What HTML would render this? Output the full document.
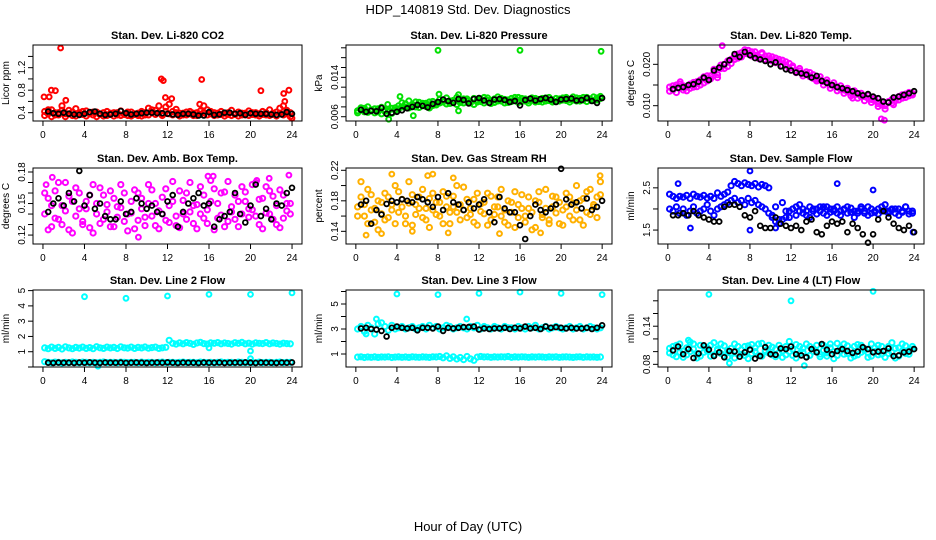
<!DOCTYPE html>
<html><head><meta charset="utf-8"><style>
html,body{margin:0;padding:0;background:#fff;}
svg{display:block;font-family:"Liberation Sans",Arial,sans-serif;}
</style></head><body>
<svg id="chart" width="936" height="540" viewBox="0 0 936 540" xmlns="http://www.w3.org/2000/svg">
<text x="468" y="14" text-anchor="middle" font-size="13">HDP_140819  Std. Dev. Diagnostics</text>
<text x="468" y="531" text-anchor="middle" font-size="13">Hour of Day (UTC)</text>
</svg>
<script>
// ---------- data ----------
const xTicks = [0,4,8,12,16,20,24];
const co2Main = [0.42,0.38,0.45,0.36,0.40,0.52,0.38,0.44,0.35,0.47,0.40,0.37,0.43,0.39,0.36,0.41,0.38,0.34,0.42,0.37,0.40,0.36,0.43,0.38,0.35,0.41,0.37,0.39,0.42,0.36,0.48,0.40,0.44,0.52,0.38,0.50,0.55,0.42,0.46,0.39,0.36,0.41,0.38,0.35,0.40,0.43,0.52,0.45,0.38,0.40,0.36,0.42,0.39,0.37,0.44,0.38,0.41,0.36,0.39,0.43,0.37,0.40,0.38,0.42,0.36,0.45,0.39,0.41,0.48,0.52,0.44,0.40];
const co2Alt = [0.35,0.45,0.33,0.40,0.36,0.44,0.33,0.38,0.41,0.34,0.37,0.42,0.34,0.38,0.41,0.33,0.37,0.40,0.35,0.39,0.34,0.40,0.35,0.37,0.41,0.34,0.38,0.35,0.34,0.40,0.36,0.45,0.37,0.40,0.35,0.42,0.38,0.36,0.40,0.34,0.39,0.36,0.42,0.39,0.35,0.37,0.40,0.36,0.42,0.35,0.39,0.37,0.34,0.40,0.35,0.37,0.34,0.39,0.36,0.35,0.40,0.36,0.34,0.37,0.40,0.35,0.37,0.34,0.39,0.36,0.38,0.33];
const co2Out = [[1.7,1.55],[0.8,0.8],[1.2,0.79],[11.4,1.0],[11.6,0.97],[15.3,0.99],[21,0.79],[23.2,0.74],[23.7,0.8],[0.1,0.68],[0.6,0.68],[2.2,0.62],[11.8,0.67],[12.4,0.65],[15.1,0.55],[23.3,0.6],[24,0.3]];
const co2Black = [0.42,0.39,0.38,0.40,0.38,0.37,0.36,0.38,0.41,0.42,0.38,0.36,0.37,0.38,0.43,0.39,0.37,0.38,0.39,0.40,0.40,0.39,0.39,0.38,0.37,0.36,0.38,0.38,0.37,0.35,0.35,0.41,0.36,0.37,0.40,0.40,0.38,0.39,0.36,0.39,0.38,0.38,0.38,0.37,0.36,0.37,0.41,0.38];

const presMain = [0.0072,0.0078,0.0070,0.0080,0.0074,0.0068,0.0076,0.0079,0.0071,0.0075,0.0067,0.0073,0.0082,0.0088,0.0079,0.0092,0.0085,0.0080,0.0089,0.0083,0.0087,0.0078,0.0091,0.0084,0.0095,0.0090,0.0098,0.0087,0.0093,0.0099,0.0089,0.0096,0.0092,0.0088,0.0097,0.0094,0.0091,0.0099,0.0093,0.0087,0.0096,0.0100,0.0092,0.0095,0.0089,0.0097,0.0094,0.0099,0.0091,0.0096,0.0093,0.0098,0.0090,0.0095,0.0097,0.0092,0.0099,0.0094,0.0091,0.0096,0.0098,0.0093,0.0095,0.0100,0.0092,0.0097,0.0094,0.0099,0.0096,0.0093,0.0098,0.0101];
const presAlt = [0.0068,0.0074,0.0077,0.0069,0.0072,0.0076,0.0070,0.0066,0.0074,0.0071,0.0077,0.0078,0.0076,0.0080,0.0086,0.0078,0.0082,0.0090,0.0079,0.0087,0.0081,0.0090,0.0083,0.0088,0.0088,0.0094,0.0086,0.0092,0.0089,0.0085,0.0094,0.0088,0.0096,0.0091,0.0085,0.0090,0.0096,0.0088,0.0098,0.0093,0.0089,0.0092,0.0097,0.0088,0.0094,0.0091,0.0099,0.0089,0.0097,0.0092,0.0088,0.0094,0.0097,0.0091,0.0090,0.0098,0.0093,0.0090,0.0097,0.0092,0.0094,0.0099,0.0090,0.0094,0.0098,0.0092,0.0099,0.0091,0.0095,0.0100,0.0094,0.0097];
const presOut = [[8,0.0195],[16,0.0195],[23.9,0.0193],[3.2,0.0055],[5.6,0.0062],[10,0.0072],[4.3,0.0101],[8.1,0.0106],[10,0.0105],[3.1,0.0085]];
const presBlack = [0.0074,0.0070,0.0072,0.0071,0.0078,0.0066,0.0068,0.0070,0.0073,0.0077,0.0080,0.0084,0.0082,0.0079,0.0086,0.0090,0.0095,0.0092,0.0088,0.0096,0.0094,0.0087,0.0096,0.0098,0.0093,0.0088,0.0095,0.0096,0.0094,0.0090,0.0092,0.0083,0.0094,0.0097,0.0093,0.0096,0.0098,0.0095,0.0090,0.0095,0.0096,0.0097,0.0093,0.0094,0.0098,0.0092,0.0088,0.0098];

const tempMain = [0.0145,0.0138,0.0150,0.0142,0.0148,0.0136,0.0152,0.0145,0.0158,0.0150,0.0165,0.0160,0.0172,0.0180,0.0175,0.0190,0.0200,0.0195,0.0212,0.0220,0.0215,0.0228,0.0235,0.0225,0.0230,0.0222,0.0218,0.0225,0.0212,0.0220,0.0208,0.0215,0.0205,0.0210,0.0198,0.0202,0.0192,0.0185,0.0190,0.0178,0.0182,0.0170,0.0175,0.0165,0.0170,0.0158,0.0162,0.0150,0.0155,0.0145,0.0148,0.0138,0.0142,0.0132,0.0136,0.0128,0.0130,0.0122,0.0125,0.0115,0.0118,0.0105,0.0110,0.0100,0.0108,0.0115,0.0112,0.0122,0.0118,0.0128,0.0124,0.0130];
const tempAlt = [0.0135,0.0148,0.0132,0.0152,0.0138,0.0146,0.0142,0.0156,0.0146,0.0162,0.0155,0.0172,0.0165,0.0188,0.0168,0.0198,0.0190,0.0208,0.0202,0.0212,0.0225,0.0218,0.0226,0.0234,0.0220,0.0230,0.0214,0.0228,0.0220,0.0210,0.0218,0.0204,0.0212,0.0196,0.0206,0.0190,0.0196,0.0180,0.0184,0.0172,0.0176,0.0180,0.0166,0.0160,0.0162,0.0150,0.0156,0.0142,0.0148,0.0136,0.0140,0.0130,0.0134,0.0124,0.0126,0.0118,0.0122,0.0112,0.0118,0.0108,0.0112,0.0098,0.0102,0.0092,0.0110,0.0106,0.0118,0.0114,0.0126,0.0120,0.0132,0.0126];
const tempOut = [[5.3,0.0245],[20.8,0.0068],[21.1,0.0065],[1.2,0.0158],[3.5,0.0170],[14.5,0.0160],[18,0.0118],[22,0.0102]];
const tempBlack = [0.0140,0.0143,0.0145,0.0150,0.0152,0.0158,0.0168,0.0162,0.0185,0.0192,0.0200,0.0210,0.0225,0.0218,0.0230,0.0222,0.0215,0.0212,0.0208,0.0200,0.0205,0.0195,0.0188,0.0185,0.0180,0.0178,0.0175,0.0168,0.0172,0.0160,0.0155,0.0150,0.0145,0.0142,0.0138,0.0135,0.0130,0.0125,0.0128,0.0122,0.0118,0.0110,0.0108,0.0120,0.0122,0.0126,0.0130,0.0135];

const boxMain = [0.140,0.155,0.128,0.162,0.135,0.148,0.170,0.125,0.152,0.138,0.160,0.130,0.145,0.158,0.122,0.150,0.165,0.135,0.142,0.128,0.155,0.147,0.168,0.133,0.140,0.152,0.126,0.160,0.145,0.137,0.150,0.163,0.129,0.143,0.156,0.134,0.148,0.171,0.138,0.127,0.153,0.160,0.142,0.131,0.149,0.166,0.136,0.144,0.172,0.125,0.150,0.139,0.161,0.133,0.147,0.158,0.128,0.166,0.152,0.137,0.144,0.170,0.130,0.155,0.141,0.162,0.135,0.148,0.127,0.158,0.143,0.150];
const boxAlt = [0.160,0.125,0.148,0.136,0.170,0.130,0.143,0.157,0.122,0.165,0.145,0.133,0.152,0.127,0.168,0.140,0.131,0.158,0.149,0.162,0.128,0.137,0.146,0.160,0.124,0.141,0.163,0.134,0.155,0.129,0.168,0.138,0.150,0.126,0.140,0.164,0.132,0.152,0.129,0.162,0.140,0.135,0.170,0.148,0.126,0.140,0.158,0.131,0.152,0.164,0.136,0.160,0.128,0.171,0.142,0.135,0.152,0.140,0.161,0.145,0.168,0.138,0.154,0.126,0.166,0.140,0.157,0.130,0.163,0.136,0.150,0.140];
const boxOut = [[0.3,0.168],[0.9,0.175],[9.2,0.118],[15.9,0.176],[16.4,0.176],[20.6,0.172],[21.8,0.174],[23.7,0.177]];
const boxBlack = [0.142,0.150,0.155,0.148,0.160,0.152,0.181,0.148,0.158,0.145,0.150,0.138,0.135,0.135,0.152,0.140,0.142,0.155,0.150,0.145,0.148,0.142,0.140,0.152,0.158,0.128,0.142,0.150,0.155,0.160,0.148,0.150,0.128,0.135,0.138,0.142,0.160,0.140,0.132,0.148,0.168,0.138,0.145,0.135,0.150,0.148,0.160,0.165];

const rhMain = [0.172,0.185,0.160,0.195,0.168,0.152,0.180,0.163,0.190,0.158,0.175,0.200,0.165,0.182,0.150,0.177,0.188,0.162,0.170,0.195,0.155,0.183,0.168,0.178,0.160,0.192,0.172,0.150,0.186,0.165,0.175,0.198,0.158,0.170,0.182,0.148,0.176,0.163,0.190,0.155,0.172,0.185,0.160,0.168,0.148,0.178,0.192,0.158,0.170,0.152,0.185,0.165,0.145,0.178,0.162,0.195,0.155,0.172,0.185,0.150,0.168,0.190,0.160,0.177,0.200,0.155,0.183,0.165,0.195,0.172,0.158,0.188];
const rhAlt = [0.160,0.205,0.175,0.150,0.188,0.170,0.142,0.178,0.155,0.185,0.168,0.150,0.192,0.172,0.160,0.205,0.148,0.175,0.185,0.158,0.170,0.145,0.190,0.162,0.178,0.150,0.186,0.165,0.172,0.200,0.155,0.168,0.182,0.162,0.152,0.190,0.166,0.178,0.148,0.186,0.162,0.172,0.195,0.152,0.180,0.165,0.145,0.175,0.188,0.160,0.170,0.142,0.180,0.192,0.158,0.170,0.150,0.186,0.164,0.178,0.148,0.172,0.185,0.155,0.168,0.180,0.148,0.192,0.162,0.175,0.185,0.205];
const rhOut = [[1,0.135],[3.5,0.215],[7,0.213],[7.5,0.215],[9.5,0.21],[23.8,0.213],[5.5,0.14],[9,0.138],[14,0.137],[18,0.138],[2.5,0.137]];
const rhBlack = [0.175,0.180,0.150,0.168,0.162,0.176,0.180,0.178,0.182,0.180,0.178,0.185,0.182,0.178,0.172,0.185,0.168,0.190,0.178,0.175,0.168,0.178,0.170,0.175,0.182,0.165,0.152,0.185,0.170,0.165,0.165,0.148,0.130,0.160,0.175,0.168,0.165,0.170,0.175,0.222,0.182,0.175,0.178,0.170,0.183,0.168,0.172,0.180];

const flowMain = [2.35,2.30,2.25,2.30,2.28,2.32,2.25,2.35,2.30,2.28,2.32,2.26,2.30,2.25,2.38,2.30,2.35,2.40,2.55,2.65,2.60,2.55,2.62,2.58,2.55,2.60,2.52,2.58,2.55,2.50,1.85,2.05,1.75,2.15,1.95,1.80,2.00,1.85,2.10,1.90,1.95,1.80,2.00,1.88,1.95,2.05,1.85,1.92,2.00,1.90,1.85,1.98,2.05,1.92,1.80,1.95,2.05,1.90,1.85,2.00,1.92,1.88,2.05,1.95,1.90,1.98,2.00,1.85,1.92,2.05,1.88,1.95];
const flowAlt = [2.00,1.95,2.05,1.90,2.00,1.85,1.95,2.05,1.90,1.95,2.00,2.10,1.95,1.85,2.00,2.05,2.10,2.15,2.20,2.25,2.15,2.20,2.10,2.25,2.15,2.20,2.10,2.05,2.00,1.90,1.80,1.70,1.65,1.75,1.80,1.95,2.00,2.05,1.95,2.00,1.85,2.05,1.95,2.00,2.05,1.90,2.05,2.00,1.95,2.05,1.95,2.00,1.90,2.02,1.95,1.90,2.00,1.95,2.05,1.90,1.95,2.00,1.95,2.10,1.95,2.00,1.90,2.00,1.95,2.05,1.95,1.90];
const flowOut = [[1,2.6],[8,2.9],[16.5,2.6],[20,2.45],[8,1.5],[23.9,1.45],[2.2,1.55],[10.5,1.55]];
const flowBlack = [1.85,1.85,1.90,1.85,1.95,1.85,1.80,1.75,1.70,1.70,2.05,2.10,2.10,2.05,1.85,1.80,1.95,1.60,1.55,1.55,1.80,1.65,1.60,1.55,1.60,1.50,1.70,1.75,1.45,1.40,1.60,1.70,1.65,1.70,1.45,1.65,1.55,1.40,1.20,1.40,1.75,1.95,1.80,1.65,1.55,1.50,1.60,1.45];

const l2Main = [1.25,1.20,1.30,1.22,1.28,1.18,1.32,1.25,1.20,1.28,1.24,1.30,1.22,1.27,1.20,1.33,1.26,1.22,1.30,1.25,1.28,1.21,1.32,1.26,1.24,1.30,1.22,1.28,1.25,1.31,1.23,1.27,1.30,1.22,1.26,1.29,1.75,1.55,1.50,1.58,1.52,1.60,1.55,1.48,1.57,1.62,1.53,1.50,1.58,1.55,1.60,1.52,1.57,1.54,1.50,1.59,1.55,1.61,1.52,1.56,1.50,1.58,1.55,1.53,1.60,1.52,1.57,1.54,1.50,1.56,1.53,1.52];
const l2Alt = [0.35,0.30,0.28,0.32,0.30,0.27,0.31,0.29,0.33,0.30,0.28,0.32,0.30,0.29,0.31,0.28,0.30,0.33,0.29,0.31,0.30,0.28,0.32,0.30,0.29,0.31,0.30,0.28,0.32,0.29,0.30,0.31,0.28,0.30,0.32,0.29,0.30,0.31,0.28,0.30,0.32,0.29,0.31,0.30,0.28,0.32,0.30,0.29,0.31,0.28,0.30,0.33,0.29,0.31,0.30,0.28,0.32,0.30,0.29,0.31,0.30,0.28,0.32,0.29,0.30,0.31,0.28,0.30,0.32,0.29,0.30,0.31];
const l2Out = [[4,4.6],[8,4.5],[12,4.65],[16,4.75],[20,4.75],[24,4.85],[16,1.25],[20,1.05],[20,0.55],[5.3,0.05]];
const l2Black = [0.28,0.27,0.29,0.28,0.28,0.27,0.29,0.28,0.30,0.28,0.27,0.29,0.28,0.28,0.29,0.27,0.28,0.29,0.28,0.27,0.28,0.29,0.28,0.30,0.28,0.27,0.29,0.28,0.28,0.27,0.29,0.28,0.28,0.29,0.27,0.28,0.29,0.28,0.30,0.28,0.27,0.29,0.28,0.28,0.27,0.29,0.28,0.30];

const l3Main = [3.0,3.2,2.8,3.3,3.1,2.6,3.4,3.5,3.2,2.9,3.3,3.0,3.1,3.2,3.0,3.1,3.2,3.0,3.1,3.2,3.0,3.3,3.1,3.2,3.0,3.1,3.3,3.2,3.0,3.1,3.2,3.1,3.0,3.2,3.1,3.3,3.0,3.2,3.1,3.0,3.2,3.1,3.0,3.2,3.1,3.1,3.0,3.2,3.1,3.0,3.2,3.1,3.3,3.0,3.1,3.2,3.0,3.1,3.2,3.1,3.0,3.1,3.2,3.0,3.1,3.2,3.0,3.1,3.2,3.1,3.0,3.1];
const l3Alt = [0.75,0.78,0.72,0.76,0.74,0.77,0.73,0.76,0.75,0.78,0.72,0.75,0.77,0.74,0.76,0.73,0.78,0.75,0.74,0.77,0.75,0.73,0.78,0.76,0.80,0.70,0.85,0.65,0.78,0.60,0.72,0.55,0.80,0.62,0.50,0.75,0.80,0.76,0.78,0.74,0.77,0.75,0.78,0.76,0.80,0.74,0.77,0.75,0.78,0.76,0.74,0.77,0.75,0.78,0.76,0.74,0.77,0.75,0.78,0.74,0.76,0.77,0.75,0.73,0.76,0.78,0.74,0.77,0.75,0.76,0.74,0.76];
const l3Out = [[4,5.8],[8,5.75],[12,5.85],[16,5.95],[20,5.85],[24,5.75],[10.8,3.8],[2,3.8],[1,2.6]];
const l3Black = [3.05,3.1,3.0,2.95,2.85,2.4,3.1,3.2,3.1,3.05,3.1,2.9,3.1,3.1,3.05,3.2,2.85,3.1,3.05,3.1,3.15,3.15,3.2,2.95,3.05,3.0,3.05,3.05,3.1,3.0,3.1,3.05,3.2,3.05,3.1,3.0,3.2,3.1,3.15,3.1,3.05,3.1,3.05,3.05,3.1,3.0,3.1,3.3];

const l4Main = [0.098,0.108,0.092,0.112,0.101,0.095,0.115,0.104,0.090,0.110,0.099,0.106,0.093,0.114,0.102,0.097,0.109,0.091,0.105,0.112,0.096,0.103,0.108,0.089,0.111,0.100,0.094,0.113,0.102,0.098,0.107,0.092,0.110,0.101,0.095,0.116,0.104,0.090,0.108,0.099,0.112,0.094,0.105,0.100,0.092,0.110,0.098,0.106,0.089,0.113,0.101,0.096,0.109,0.103,0.093,0.111,0.099,0.105,0.091,0.112,0.100,0.095,0.108,0.102,0.097,0.114,0.090,0.106,0.101,0.109,0.096,0.104];
const l4Alt = [0.105,0.095,0.110,0.099,0.091,0.106,0.100,0.112,0.097,0.093,0.108,0.101,0.110,0.095,0.104,0.112,0.093,0.102,0.098,0.090,0.108,0.096,0.094,0.109,0.097,0.106,0.112,0.093,0.100,0.110,0.095,0.104,0.098,0.091,0.108,0.100,0.094,0.111,0.097,0.105,0.092,0.108,0.100,0.110,0.096,0.102,0.093,0.112,0.100,0.094,0.106,0.112,0.097,0.090,0.108,0.095,0.110,0.102,0.098,0.093,0.106,0.110,0.096,0.091,0.108,0.099,0.105,0.093,0.112,0.097,0.102,0.108];
const l4Out = [[4,0.19],[12,0.18],[20,0.195],[13.3,0.078],[6,0.082],[2,0.118]];
const l4Black = [0.102,0.108,0.096,0.104,0.090,0.097,0.110,0.103,0.093,0.099,0.091,0.101,0.100,0.092,0.099,0.103,0.089,0.093,0.107,0.096,0.095,0.105,0.104,0.108,0.096,0.094,0.091,0.104,0.099,0.112,0.103,0.096,0.101,0.104,0.101,0.098,0.100,0.107,0.104,0.099,0.100,0.101,0.105,0.093,0.094,0.099,0.100,0.104];

// ---------- layout ----------
const panels = [
 {name:'co2',title:'Stan. Dev. Li-820 CO2',ylab:'Licor ppm',col:'#ff0000',main:co2Main,alt:co2Alt,out:co2Out,black:co2Black,box:[33,45,302,121],ymin:0.252,ymax:1.603,ticks:[0.4,0.6,0.8,1.0,1.2,1.4],labels:['0.4','0.8','1.2']},
 {name:'pressure',title:'Stan. Dev. Li-820 Pressure',ylab:'kPa',col:'#00e000',main:presMain,alt:presAlt,out:presOut,black:presBlack,box:[346,45,612,121],ymin:0.00513,ymax:0.02057,ticks:[0.006,0.008,0.010,0.012,0.014,0.016,0.018,0.020],labels:['0.006','0.014']},
 {name:'temp',title:'Stan. Dev. Li-820 Temp.',ylab:'degrees C',col:'#ff00ff',main:tempMain,alt:tempAlt,out:tempOut,black:tempBlack,box:[658,45,924,121],ymin:0.0063,ymax:0.02467,ticks:[0.010,0.015,0.020],labels:['0.010','0.020']},
 {name:'box-temp',title:'Stan. Dev. Amb. Box Temp.',ylab:'degrees C',col:'#ff00ff',main:boxMain,alt:boxAlt,out:boxOut,black:boxBlack,box:[33,168,302,244],ymin:0.1115,ymax:0.1838,ticks:[0.12,0.13,0.14,0.15,0.16,0.17,0.18],labels:['0.12','0.15','0.18']},
 {name:'gas-rh',title:'Stan. Dev. Gas Stream RH',ylab:'percent',col:'#ffb000',main:rhMain,alt:rhAlt,out:rhOut,black:rhBlack,box:[346,168,612,244],ymin:0.1234,ymax:0.223,ticks:[0.14,0.16,0.18,0.20,0.22],labels:['0.14','0.18','0.22']},
 {name:'sample-flow',title:'Stan. Dev. Sample Flow',ylab:'ml/min',col:'#0000ff',main:flowMain,alt:flowAlt,out:flowOut,black:flowBlack,box:[658,168,924,244],ymin:1.17,ymax:2.97,ticks:[1.5,2.0,2.5],labels:['1.5','2.5']},
 {name:'line2-flow',title:'Stan. Dev. Line 2 Flow',ylab:'ml/min',col:'#00ffff',main:l2Main,alt:l2Alt,out:l2Out,black:l2Black,box:[33,290,302,367],ymin:0,ymax:5.04,ticks:[0,1,2,3,4,5],labels:['1','2','3','4','5']},
 {name:'line3-flow',title:'Stan. Dev. Line 3 Flow',ylab:'ml/min',col:'#00ffff',main:l3Main,alt:l3Alt,out:l3Out,black:l3Black,box:[346,290,612,367],ymin:-0.04,ymax:6.12,ticks:[1,2,3,4,5,6],labels:['1','3','5']},
 {name:'line4-flow',title:'Stan. Dev. Line 4 (LT) Flow',ylab:'ml/min',col:'#00ffff',main:l4Main,alt:l4Alt,out:l4Out,black:l4Black,box:[658,290,924,367],ymin:0.0758,ymax:0.197,ticks:[0.08,0.10,0.12,0.14,0.16,0.18],labels:['0.08','0.14']}
];

const svg = document.getElementById('chart');
const NS = 'http://www.w3.org/2000/svg';
function mk(tag, attrs, parent){
  const e = document.createElementNS(NS, tag);
  for (const k in attrs) e.setAttribute(k, attrs[k]);
  parent.appendChild(e);
  return e;
}

panels.forEach(p => {
  const [L,T,R,B] = p.box;
  const g = mk('g', {}, svg);
  
  
  const pad = (R-L)/(24*1.08)*0.96;
  const xs = h => L + pad + h*(R-L-2*pad)/24;
  const ys = v => B - (v - p.ymin)/(p.ymax - p.ymin)*(B - T);
  const t = mk('text', {x:(L+R)/2, y:T-6, 'text-anchor':'middle','font-size':'11','font-weight':'bold'}, g);
  t.textContent = p.title;
  
  
  const yl = mk('text', {transform:`translate(${L-24},${(T+B)/2}) rotate(-90)`, 'text-anchor':'middle','font-size':'10'}, g);
  yl.textContent = p.ylab;
  
  
  const pts = mk('g', {fill:'none', stroke:p.col, 'stroke-width':'2'}, g);
  
  
  [p.main, p.alt].forEach(arr => {
    arr.forEach((v,i) => {
      const h = (i+0.5)*24/arr.length;
      const c = mk('circle', {cx:xs(h).toFixed(1), cy:ys(v).toFixed(1), r:'2.6'}, pts);
      
      
    });
  });
  p.out.forEach(o => {
    const c = mk('circle', {cx:xs(o[0]).toFixed(1), cy:ys(o[1]).toFixed(1), r:'2.4'}, pts);
    
    
  });
  const bk = mk('g', {fill:'none', stroke:'#000', 'stroke-width':'1.8'}, g);
  
  
  p.black.forEach((v,i) => {
    const h = 0.5 + i*0.5;
    const c = mk('circle', {cx:xs(h).toFixed(1), cy:ys(v).toFixed(1), r:'2.4'}, bk);
    
    
  });
  const r = mk('rect', {x:L, y:T, width:R-L, height:B-T, fill:'none', stroke:'#000','stroke-width':'1'}, g);
  
  
  const xa = mk('g', {}, g);
  
  
  mk('line', {x1:xs(0), x2:xs(24), y1:B, y2:B, stroke:'#000'}, xa);
  xTicks.forEach(h => {
    mk('line', {x1:xs(h), x2:xs(h), y1:B, y2:B+5, stroke:'#000'}, xa);
    const tl = mk('text', {x:xs(h), y:B+17, 'text-anchor':'middle','font-size':'10'}, xa);
    tl.textContent = h;
    
    
  });
  const ya = mk('g', {}, g);
  
  
  p.ticks.forEach(v => {
    const y = ys(v);
    if (y < T-1 || y > B+1) return;
    mk('line', {x1:L-5, x2:L, y1:y, y2:y, stroke:'#000'}, ya);
  });
  p.labels.forEach(s => {
    const y = ys(parseFloat(s));
    const tl = mk('text', {transform:`translate(${L-8},${y}) rotate(-90)`, 'text-anchor':'middle','font-size':'10'}, ya);
    tl.textContent = s;
    
    
  });
});
</script>
</body></html>
